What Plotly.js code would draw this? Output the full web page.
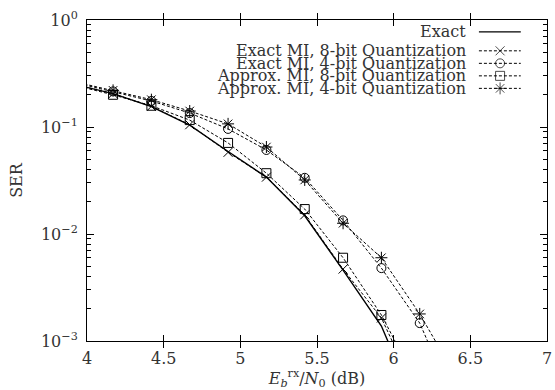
<!DOCTYPE html>
<html><head><meta charset="utf-8">
<script src="https://cdn.plot.ly/plotly-3.0.1.min.js"></script>
<style>html,body{margin:0;padding:0;background:#fff}#c{width:555px;height:390px}</style>
</head><body><div id="c"></div>
<script>
// Data (Eb/N0 in dB, SER)
const xMain = [3.92, 4.17, 4.42, 4.67, 4.92, 5.17, 5.42, 5.67, 5.92, 6.17];
const xLong = [3.92, 4.17, 4.42, 4.67, 4.92, 5.17, 5.42, 5.67, 5.92, 6.17, 6.42];
const serExact = [0.25, 0.205, 0.155, 0.104, 0.059, 0.034, 0.0148, 0.0046, 0.00138, 0.0002];
const serMI8 = [0.25, 0.205, 0.156, 0.105, 0.058, 0.034, 0.0151, 0.0047, 0.00164, 0.00028];
const serMI4 = [0.26, 0.215, 0.175, 0.135, 0.096, 0.061, 0.0335, 0.0134, 0.0048, 0.00147, 0.00022];
const serApx8 = [0.245, 0.2, 0.158, 0.116, 0.071, 0.037, 0.0171, 0.006, 0.00175, 0.00036];
const serApx4 = [0.265, 0.22, 0.18, 0.141, 0.107, 0.065, 0.032, 0.0126, 0.006, 0.00179, 0.00043];
const seriesNames = ["Exact", "Exact MI, 8-bit Quantization", "Exact MI, 4-bit Quantization",
  "Approx. MI, 8-bit Quantization", "Approx. MI, 4-bit Quantization"];
const xTicks = [4, 4.5, 5, 5.5, 6, 6.5, 7];
const yTickVals = [1, 0.1, 0.01, 0.001];
const yTickText = ["10<sup>0</sup>", "10<sup>−1</sup>", "10<sup>−2</sup>", "10<sup>−3</sup>"];
const yMinorVals = [0.002, 0.003, 0.004, 0.005, 0.006, 0.007, 0.008, 0.009,
  0.02, 0.03, 0.04, 0.05, 0.06, 0.07, 0.08, 0.09,
  0.2, 0.3, 0.4, 0.5, 0.6, 0.7, 0.8, 0.9];

const symbols = [null, "x-thin-open", "circle-open", "square-open", "asterisk-open"];
const sizes = [0, 9, 9, 9, 10];
const dashStyle = "3px,2px";
const FONT = 'DejaVu Serif, serif';

const serData = [
  [xMain, serExact], [xMain, serMI8], [xLong, serMI4], [xMain, serApx8], [xLong, serApx4]
];

const traces = [];
serData.forEach((d, i) => {
  if (i === 0) {
    traces.push({x: d[0], y: d[1], mode: 'lines', type: 'scatter',
      line: {color: '#000', width: 1.4}, showlegend: false, hoverinfo: 'skip'});
  } else {
    traces.push({x: d[0], y: d[1], mode: 'lines+markers', type: 'scatter',
      line: {color: '#000', width: 1, dash: dashStyle},
      marker: {symbol: symbols[i], size: sizes[i], color: '#000', line: {color: '#000', width: 1}},
      showlegend: false, hoverinfo: 'skip'});
  }
});
// empty trace so the minor-tick overlay axis is drawn
traces.push({x: [], y: [], yaxis: 'y3', type: 'scatter', mode: 'lines', showlegend: false, hoverinfo: 'skip'});

// Legend (gnuplot style: text right, sample at right)
const legY = [0.963, 0.904, 0.865, 0.826, 0.787];
const legX0 = 0.852, legX1 = 0.943, legXm = 0.898;
const annotations = [];
seriesNames.forEach((n, i) => {
  const isExact = i === 0;
  const t = {x: [legX0, legXm, legX1], y: [legY[i], legY[i], legY[i]],
    xaxis: 'x2', yaxis: 'y2', type: 'scatter',
    mode: isExact ? 'lines' : 'lines+markers',
    line: {color: '#000', width: isExact ? 1.4 : 1, dash: isExact ? 'solid' : dashStyle},
    showlegend: false, hoverinfo: 'skip'};
  if (!isExact) t.marker = {symbol: symbols[i], size: [0, sizes[i], 0], color: '#000', line: {color: '#000', width: 1}};
  traces.push(t);
  annotations.push({text: n, xref: 'paper', yref: 'paper', x: 0.828, y: legY[i],
    xanchor: 'right', yanchor: 'middle', showarrow: false,
    font: {family: FONT, size: 16, color: '#333'}});
});

const font = {family: FONT, size: 16, color: '#333'};
const layout = {
  width: 555, height: 390,
  margin: {l: 87, r: 8, t: 20, b: 49},
  paper_bgcolor: '#fff', plot_bgcolor: '#fff',
  font: font,
  showlegend: false,
  annotations: annotations,
  xaxis: {
    range: [4, 7], tickvals: xTicks, ticks: 'inside', ticklen: 6, tickcolor: '#000',
    ticklabelstandoff: 3,
    showline: true, linecolor: '#000', linewidth: 1, mirror: 'allticks', showgrid: false, zeroline: false,
    tickfont: font,
    title: {text: '<i>E</i><sub><i>b</i></sub><sup>rx</sup>/<i>N</i><sub>0</sub> (dB)', font: font, standoff: 2}
  },
  yaxis: {
    type: 'log', range: [-3, 0], tickvals: yTickVals, ticktext: yTickText,
    ticks: 'inside', ticklen: 7, tickcolor: '#000', ticklabelstandoff: 5,
    minor: {ticks: 'inside', ticklen: 4, tickcolor: '#000', tickmode: 'array', tickvals: yMinorVals, showgrid: false},
    showline: true, linecolor: '#000', linewidth: 1, mirror: 'allticks', showgrid: false, zeroline: false,
    tickfont: font,
    title: {text: 'SER', font: font, standoff: 14}
  },
  yaxis3: {
    overlaying: 'y', anchor: 'x', type: 'log', range: [-3, 0], tickmode: 'array', tickvals: yMinorVals,
    ticks: 'inside', ticklen: 4, tickwidth: 1, tickcolor: '#000', showticklabels: false,
    showline: true, linecolor: '#000', linewidth: 1, mirror: 'allticks', showgrid: false, zeroline: false
  },
  xaxis2: {overlaying: 'x', range: [0, 1], visible: false, fixedrange: true},
  yaxis2: {overlaying: 'y', range: [0, 1], visible: false, fixedrange: true}
};
Plotly.newPlot('c', traces, layout, {staticPlot: true});
</script></body></html>
